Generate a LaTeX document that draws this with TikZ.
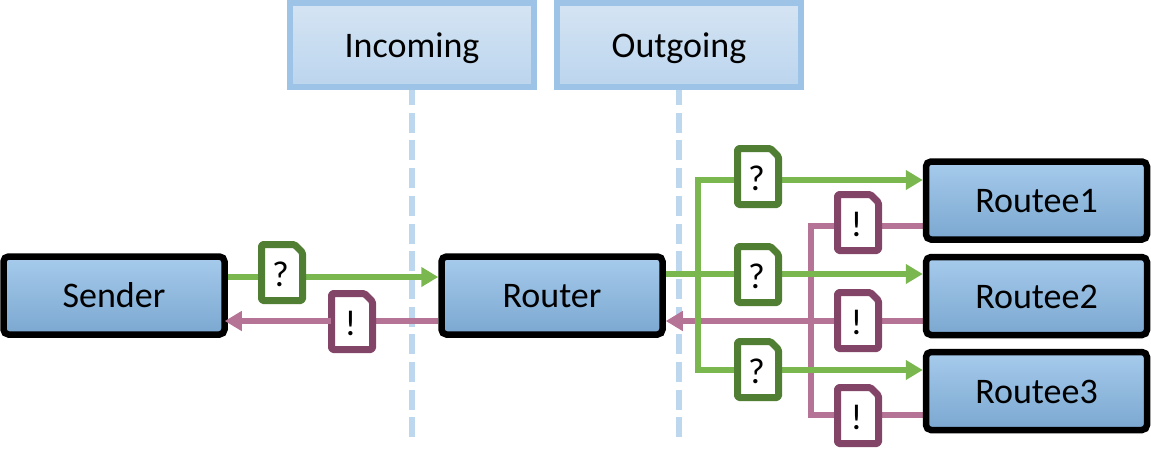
\documentclass[tikz,border=0pt]{standalone}
\usepackage{fontspec}
\setmainfont{Carlito}
\usetikzlibrary{arrows.meta,calc}
\pgfdeclarelayer{bg}
\pgfdeclarelayer{bgg}
\pgfsetlayers{bgg,bg,main}
\definecolor{grnline}{HTML}{7AB84F}
\definecolor{grndark}{HTML}{507E32}
\definecolor{pnkline}{HTML}{B57395}
\definecolor{pnkdark}{HTML}{834567}
\definecolor{hdrline}{HTML}{9DC3E6}
\definecolor{dashln}{HTML}{BDD7EE}
\definecolor{acttop}{HTML}{A6CBEC}
\definecolor{actmid}{HTML}{98C1E8}
\definecolor{actbot}{HTML}{7BA7D0}
\definecolor{hdrtop}{HTML}{D5E4F3}
\definecolor{hdrbot}{HTML}{BBD5EE}
\tikzset{
  x=1pt,y=-1pt,
  every node/.style={font=\fontsize{36}{40}\selectfont,text=black,inner sep=0pt},
  actor/.style={draw=black,line width=6.5,rounded corners=5,top color=acttop,middle color=actmid,bottom color=actbot,minimum width=221,minimum height=78,text height=24.4,text depth=0},
  header/.style={draw=hdrline,line width=6,top color=hdrtop,bottom color=hdrbot,minimum width=244,minimum height=84,text height=24,text depth=0},
  lifeline/.style={dashln,line width=5.5,dash pattern=on 20 off 7.7},
  reqline/.style={grnline,line width=6},
  repline/.style={pnkline,line width=6},
  reqarrow/.style={reqline,-{Triangle[length=17,width=19]}},
  reparrow/.style={repline,-{Triangle[length=17,width=19]}},
}
\newcommand{\mnote}[6]{%
  \begin{scope}[shift={(#2,#3)}]
    \draw[draw=#5,fill=white,line width=7,line join=round,rounded corners=1.5]
      (-20.5,#4) -- (12.5,#4) -- (20.5,{#4+8}) -- (20.5,{#4+56}) -- (-20.5,{#4+56}) -- cycle;
    \node[minimum width=41] (#1) at (0,0) {};
    \node[anchor=base] (#1t) at (-1.5,{#4+42}) {#6};
  \end{scope}}
\begin{document}
\begin{tikzpicture}
\useasboundingbox (0,0) rectangle (1151,448);
\node[header] (incoming) at (412,45) {Incoming};
\node[header] (outgoing) at (679,45) {Outgoing};
\node[actor] (sender) at (114,295.5) {Sender};
\node[actor] (router) at (552,295.5) {Router};
\node[actor] (routee1) at (1036.5,200.5) {Routee1};
\node[actor] (routee2) at (1036.5,296) {Routee2};
\node[actor] (routee3) at (1036.5,391) {Routee3};
\coordinate (inend) at (412,438);
\coordinate (outend) at (679,438);
\mnote{qs}{282}{277}{-32.5}{grndark}{?}
\mnote{qa}{758}{180}{-31.5}{grndark}{?}
\mnote{qb}{758}{274}{-27.5}{grndark}{?}
\mnote{qc}{758}{370}{-28.5}{grndark}{?}
\mnote{ea}{858}{226}{-31.5}{pnkdark}{!}
\mnote{eb}{858}{321}{-28.5}{pnkdark}{!}
\mnote{ec}{858}{415}{-27.5}{pnkdark}{!}
\mnote{es}{352}{321}{-27.5}{pnkdark}{!}
\coordinate (gtrunk) at (698,274);
\coordinate (ptrunk) at (811,321);
\begin{pgfonlayer}{bgg}
\draw[lifeline] (incoming.south) ++(0,-5) -- (inend);
\draw[lifeline] (outgoing.south) ++(0,-5) -- (outend);
\draw[repline] (routee1.west |- ea) -- (ea);
\draw[repline] (routee2.west |- eb) -- (eb);
\draw[repline] (routee3.west |- ec) -- (ec);
\draw[repline] (ea) -| (ptrunk);
\draw[repline] (ec) -| (ptrunk);
\draw[reparrow] (eb) -- (router.east |- eb);
\draw[repline] (router.west |- es) -- (es);
\end{pgfonlayer}
\begin{pgfonlayer}{bg}
\draw[reqline] (sender.east |- qs) -- (qs);
\draw[reqarrow] (qs) -- (router.west |- qs);
\draw[reqline] (router.east |- qb) -- (qb);
\draw[reqline] (gtrunk) |- (qa);
\draw[reqline] (gtrunk) |- (qc);
\draw[reqarrow] (qa) -- (routee1.west |- qa);
\draw[reqarrow] (qb) -- (routee2.west |- qb);
\draw[reqarrow] (qc) -- (routee3.west |- qc);
\end{pgfonlayer}
\draw[reparrow,shorten >=-3] (es.west) -- (sender.east |- es);
\end{tikzpicture}
\end{document}
